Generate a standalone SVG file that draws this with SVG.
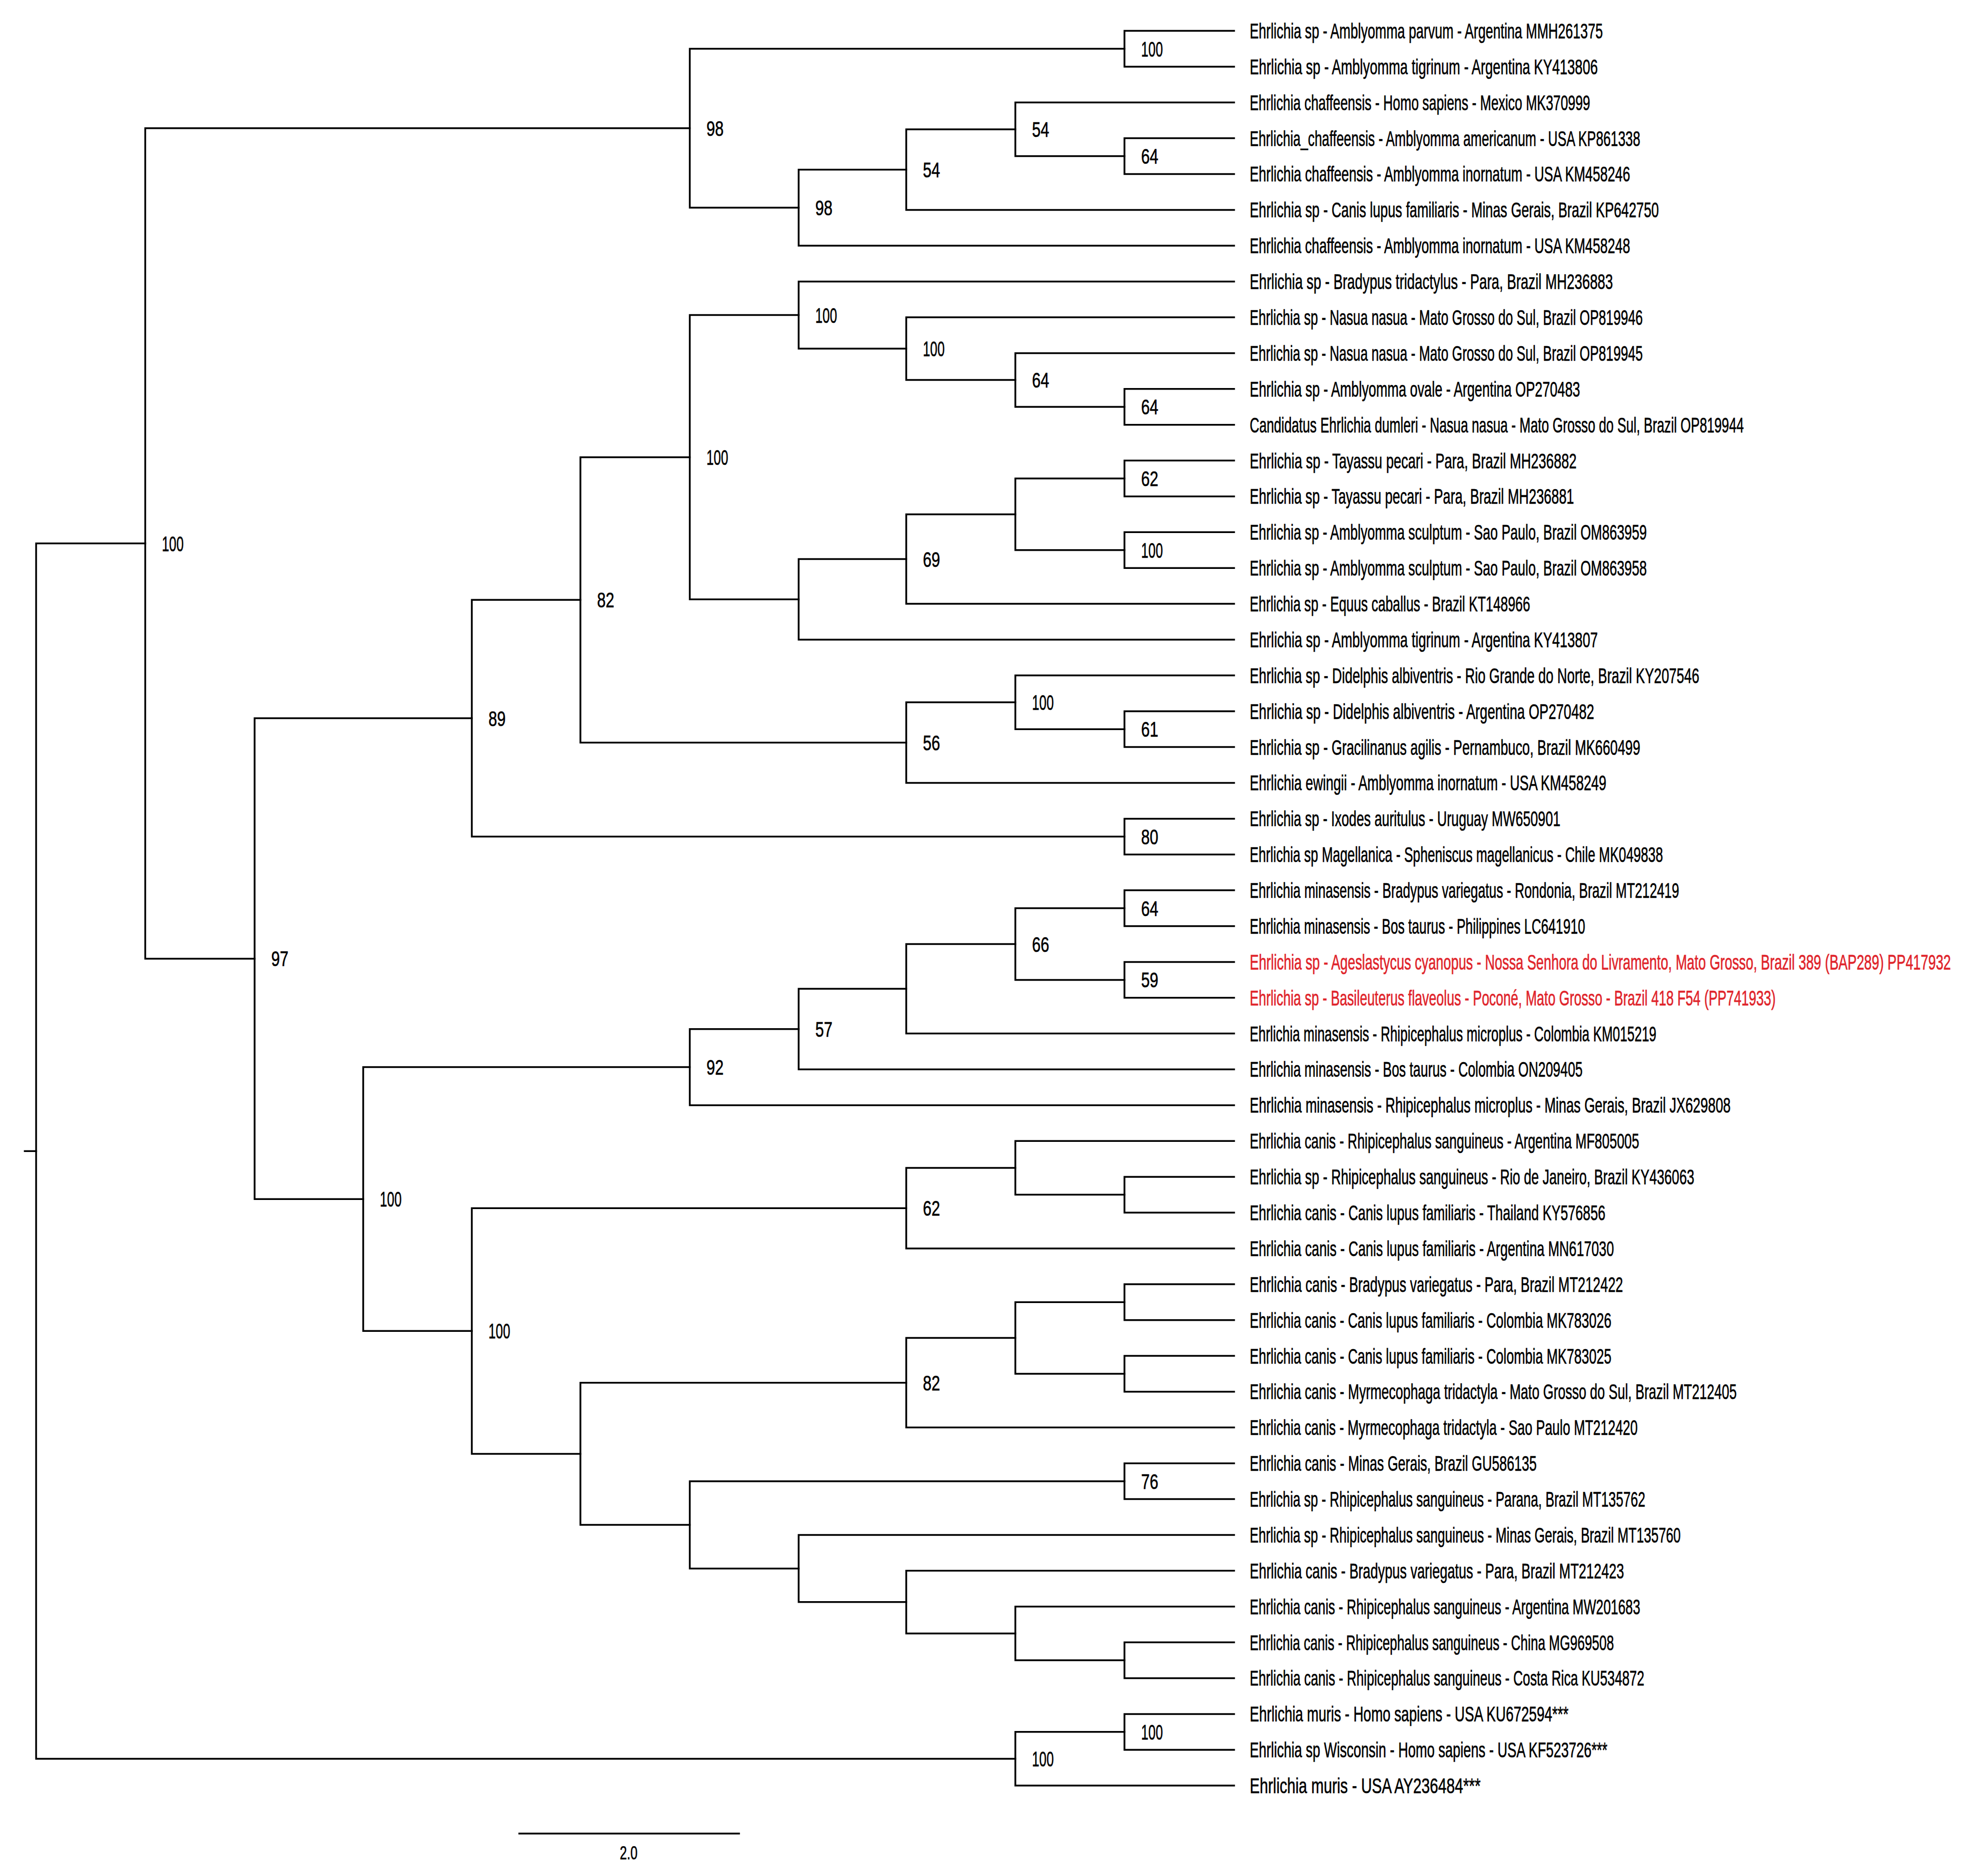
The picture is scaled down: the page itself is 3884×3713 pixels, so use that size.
<svg xmlns="http://www.w3.org/2000/svg" width="3884" height="3713" viewBox="0 0 3884 3713">
<style>
text { font-family: "Liberation Sans", Arial, sans-serif; font-size: 42px; fill: #000; stroke: #000; stroke-width: 0.7; }
.red { fill: #e0242b; stroke: #e0242b; }
.sc { font-size: 36px; }
#connectors path { fill: none; stroke: #000; stroke-width: 3.5; stroke-linejoin: miter; stroke-linecap: square; }
</style>
<rect x="0" y="0" width="3884" height="3713" fill="#fff"/>
<g id="connectors">
<path d="M49 2278.3 H71.5"/>
<path d="M287.5 1075.5 H71.5 V3481 H2010"/>
<path d="M1365.5 253.7 H287.5 V1897.4 H504"/>
<path d="M2226 96.5 H1365.5 V411 H1581"/>
<path d="M2443 61 H2226 V131.9 H2443"/>
<path d="M1794 335.7 H1581 V486.3 H2443"/>
<path d="M2010 255.9 H1794 V415.4 H2443"/>
<path d="M2443 202.8 H2010 V309.1 H2226"/>
<path d="M2443 273.6 H2226 V344.5 H2443"/>
<path d="M934 1421.6 H504 V2373.2 H719"/>
<path d="M1149 1187.3 H934 V1655.8 H2226"/>
<path d="M1365.5 904.9 H1149 V1469.7 H1794"/>
<path d="M1581 623.6 H1365.5 V1186.3 H1581"/>
<path d="M2443 557.2 H1581 V690 H1794"/>
<path d="M2443 628 H1794 V752.1 H2010"/>
<path d="M2443 698.9 H2010 V805.3 H2226"/>
<path d="M2443 769.8 H2226 V840.7 H2443"/>
<path d="M1794 1106.5 H1581 V1266 H2443"/>
<path d="M2010 1017.9 H1794 V1195.1 H2443"/>
<path d="M2226 947 H2010 V1088.8 H2226"/>
<path d="M2443 911.6 H2226 V982.4 H2443"/>
<path d="M2443 1053.3 H2226 V1124.2 H2443"/>
<path d="M2010 1390 H1794 V1549.5 H2443"/>
<path d="M2443 1336.8 H2010 V1443.2 H2226"/>
<path d="M2443 1407.7 H2226 V1478.6 H2443"/>
<path d="M2443 1620.4 H2226 V1691.2 H2443"/>
<path d="M1365.5 2112.1 H719 V2634.3 H934"/>
<path d="M1581 2036.8 H1365.5 V2187.4 H2443"/>
<path d="M1794 1957 H1581 V2116.5 H2443"/>
<path d="M2010 1868.5 H1794 V2045.6 H2443"/>
<path d="M2226 1797.6 H2010 V1939.4 H2226"/>
<path d="M2443 1762.1 H2226 V1833 H2443"/>
<path d="M2443 1903.9 H2226 V1974.8 H2443"/>
<path d="M1794 2391.2 H934 V2877.4 H1149"/>
<path d="M2010 2311.5 H1794 V2470.9 H2443"/>
<path d="M2443 2258.3 H2010 V2364.6 H2226"/>
<path d="M2443 2329.2 H2226 V2400 H2443"/>
<path d="M1794 2736.7 H1149 V3018 H1365.5"/>
<path d="M2226 2577.3 H2010 V2719 H2226"/>
<path d="M2010 2648.1 H1794 V2825.3 H2443"/>
<path d="M2443 2541.8 H2226 V2612.7 H2443"/>
<path d="M2443 2683.6 H2226 V2754.4 H2443"/>
<path d="M2226 2931.7 H1365.5 V3104.4 H1581"/>
<path d="M2443 2896.2 H2226 V2967.1 H2443"/>
<path d="M2443 3038 H1581 V3170.8 H1794"/>
<path d="M2443 3108.8 H1794 V3232.9 H2010"/>
<path d="M2443 3179.7 H2010 V3286.1 H2226"/>
<path d="M2443 3250.6 H2226 V3321.5 H2443"/>
<path d="M2226 3427.8 H2010 V3534.1 H2443"/>
<path d="M2443 3392.4 H2226 V3463.2 H2443"/>
<path d="M1028 3629 H1463"/>
</g>
<g id="support-labels">
<g id="node-n12"><text x="2259" y="111.5" textLength="43" lengthAdjust="spacingAndGlyphs">100</text></g>
<g id="node-G"><text x="2259" y="324" textLength="34" lengthAdjust="spacingAndGlyphs">64</text></g>
<g id="node-F"><text x="2043" y="271" textLength="34" lengthAdjust="spacingAndGlyphs">54</text></g>
<g id="node-E"><text x="1827" y="350.7" textLength="34" lengthAdjust="spacingAndGlyphs">54</text></g>
<g id="node-D"><text x="1614" y="426" textLength="34" lengthAdjust="spacingAndGlyphs">98</text></g>
<g id="node-B"><text x="1398.5" y="268.7" textLength="34" lengthAdjust="spacingAndGlyphs">98</text></g>
<g id="node-A"><text x="320.5" y="1090.5" textLength="43" lengthAdjust="spacingAndGlyphs">100</text></g>
<g id="node-T"><text x="2259" y="820.3" textLength="34" lengthAdjust="spacingAndGlyphs">64</text></g>
<g id="node-S"><text x="2043" y="767.1" textLength="34" lengthAdjust="spacingAndGlyphs">64</text></g>
<g id="node-R"><text x="1827" y="705" textLength="43" lengthAdjust="spacingAndGlyphs">100</text></g>
<g id="node-P"><text x="1614" y="638.6" textLength="43" lengthAdjust="spacingAndGlyphs">100</text></g>
<g id="node-W"><text x="2259" y="962" textLength="34" lengthAdjust="spacingAndGlyphs">62</text></g>
<g id="node-X"><text x="2259" y="1103.8" textLength="43" lengthAdjust="spacingAndGlyphs">100</text></g>
<g id="node-U"><text x="1827" y="1121.5" textLength="34" lengthAdjust="spacingAndGlyphs">69</text></g>
<g id="node-N"><text x="1398.5" y="919.9" textLength="43" lengthAdjust="spacingAndGlyphs">100</text></g>
<g id="node-Z"><text x="2259" y="1458.2" textLength="34" lengthAdjust="spacingAndGlyphs">61</text></g>
<g id="node-Y"><text x="2043" y="1405" textLength="43" lengthAdjust="spacingAndGlyphs">100</text></g>
<g id="node-O"><text x="1827" y="1484.7" textLength="34" lengthAdjust="spacingAndGlyphs">56</text></g>
<g id="node-J"><text x="1182" y="1202.3" textLength="34" lengthAdjust="spacingAndGlyphs">82</text></g>
<g id="node-K"><text x="2259" y="1670.8" textLength="34" lengthAdjust="spacingAndGlyphs">80</text></g>
<g id="node-H"><text x="967" y="1436.6" textLength="34" lengthAdjust="spacingAndGlyphs">89</text></g>
<g id="node-C"><text x="537" y="1912.4" textLength="34" lengthAdjust="spacingAndGlyphs">97</text></g>
<g id="node-AF"><text x="2259" y="1812.6" textLength="34" lengthAdjust="spacingAndGlyphs">64</text></g>
<g id="node-AG"><text x="2259" y="1954.4" textLength="34" lengthAdjust="spacingAndGlyphs">59</text></g>
<g id="node-AE"><text x="2043" y="1883.5" textLength="34" lengthAdjust="spacingAndGlyphs">66</text></g>
<g id="node-AC"><text x="1614" y="2051.8" textLength="34" lengthAdjust="spacingAndGlyphs">57</text></g>
<g id="node-AA"><text x="1398.5" y="2127.1" textLength="34" lengthAdjust="spacingAndGlyphs">92</text></g>
<g id="node-AH"><text x="1827" y="2406.2" textLength="34" lengthAdjust="spacingAndGlyphs">62</text></g>
<g id="node-AL"><text x="1827" y="2751.7" textLength="34" lengthAdjust="spacingAndGlyphs">82</text></g>
<g id="node-AQ"><text x="2259" y="2946.7" textLength="34" lengthAdjust="spacingAndGlyphs">76</text></g>
<g id="node-AB"><text x="967" y="2649.3" textLength="43" lengthAdjust="spacingAndGlyphs">100</text></g>
<g id="node-I"><text x="752" y="2388.2" textLength="43" lengthAdjust="spacingAndGlyphs">100</text></g>
<g id="node-n4849"><text x="2259" y="3442.8" textLength="43" lengthAdjust="spacingAndGlyphs">100</text></g>
<g id="node-M"><text x="2043" y="3496" textLength="43" lengthAdjust="spacingAndGlyphs">100</text></g>
</g>
<g id="leaves" transform="translate(2474 0) scale(0.63 1)">
<g id="leaf-1"><text x="0" y="76" textLength="1109.5" lengthAdjust="spacingAndGlyphs">Ehrlichia sp - Amblyomma parvum - Argentina MMH261375</text></g>
<g id="leaf-2"><text x="0" y="146.9" textLength="1093.7" lengthAdjust="spacingAndGlyphs">Ehrlichia sp - Amblyomma tigrinum - Argentina KY413806</text></g>
<g id="leaf-3"><text x="0" y="217.8" textLength="1069.8" lengthAdjust="spacingAndGlyphs">Ehrlichia chaffeensis - Homo sapiens - Mexico MK370999</text></g>
<g id="leaf-4"><text x="0" y="288.6" textLength="1227" lengthAdjust="spacingAndGlyphs">Ehrlichia_chaffeensis - Amblyomma americanum - USA KP861338</text></g>
<g id="leaf-5"><text x="0" y="359.5" textLength="1195.2" lengthAdjust="spacingAndGlyphs">Ehrlichia chaffeensis - Amblyomma inornatum - USA KM458246</text></g>
<g id="leaf-6"><text x="0" y="430.4" textLength="1285.7" lengthAdjust="spacingAndGlyphs">Ehrlichia sp - Canis lupus familiaris - Minas Gerais, Brazil KP642750</text></g>
<g id="leaf-7"><text x="0" y="501.3" textLength="1195.2" lengthAdjust="spacingAndGlyphs">Ehrlichia chaffeensis - Amblyomma inornatum - USA KM458248</text></g>
<g id="leaf-8"><text x="0" y="572.2" textLength="1141.3" lengthAdjust="spacingAndGlyphs">Ehrlichia sp - Bradypus tridactylus - Para, Brazil MH236883</text></g>
<g id="leaf-9"><text x="0" y="643" textLength="1234.9" lengthAdjust="spacingAndGlyphs">Ehrlichia sp - Nasua nasua - Mato Grosso do Sul, Brazil OP819946</text></g>
<g id="leaf-10"><text x="0" y="713.9" textLength="1234.9" lengthAdjust="spacingAndGlyphs">Ehrlichia sp - Nasua nasua - Mato Grosso do Sul, Brazil OP819945</text></g>
<g id="leaf-11"><text x="0" y="784.8" textLength="1038.1" lengthAdjust="spacingAndGlyphs">Ehrlichia sp - Amblyomma ovale - Argentina OP270483</text></g>
<g id="leaf-12"><text x="0" y="855.7" textLength="1552.4" lengthAdjust="spacingAndGlyphs">Candidatus Ehrlichia dumleri - Nasua nasua - Mato Grosso do Sul, Brazil OP819944</text></g>
<g id="leaf-13"><text x="0" y="926.6" textLength="1027" lengthAdjust="spacingAndGlyphs">Ehrlichia sp - Tayassu pecari - Para, Brazil MH236882</text></g>
<g id="leaf-14"><text x="0" y="997.4" textLength="1019" lengthAdjust="spacingAndGlyphs">Ehrlichia sp - Tayassu pecari - Para, Brazil MH236881</text></g>
<g id="leaf-15"><text x="0" y="1068.3" textLength="1247.6" lengthAdjust="spacingAndGlyphs">Ehrlichia sp - Amblyomma sculptum - Sao Paulo, Brazil OM863959</text></g>
<g id="leaf-16"><text x="0" y="1139.2" textLength="1247.6" lengthAdjust="spacingAndGlyphs">Ehrlichia sp - Amblyomma sculptum - Sao Paulo, Brazil OM863958</text></g>
<g id="leaf-17"><text x="0" y="1210.1" textLength="881" lengthAdjust="spacingAndGlyphs">Ehrlichia sp - Equus caballus - Brazil KT148966</text></g>
<g id="leaf-18"><text x="0" y="1281" textLength="1093.7" lengthAdjust="spacingAndGlyphs">Ehrlichia sp - Amblyomma tigrinum - Argentina KY413807</text></g>
<g id="leaf-19"><text x="0" y="1351.8" textLength="1412.7" lengthAdjust="spacingAndGlyphs">Ehrlichia sp - Didelphis albiventris - Rio Grande do Norte, Brazil KY207546</text></g>
<g id="leaf-20"><text x="0" y="1422.7" textLength="1082.5" lengthAdjust="spacingAndGlyphs">Ehrlichia sp - Didelphis albiventris - Argentina OP270482</text></g>
<g id="leaf-21"><text x="0" y="1493.6" textLength="1227" lengthAdjust="spacingAndGlyphs">Ehrlichia sp - Gracilinanus agilis - Pernambuco, Brazil MK660499</text></g>
<g id="leaf-22"><text x="0" y="1564.5" textLength="1120.6" lengthAdjust="spacingAndGlyphs">Ehrlichia ewingii - Amblyomma inornatum - USA KM458249</text></g>
<g id="leaf-23"><text x="0" y="1635.4" textLength="976.2" lengthAdjust="spacingAndGlyphs">Ehrlichia sp - Ixodes auritulus - Uruguay MW650901</text></g>
<g id="leaf-24"><text x="0" y="1706.2" textLength="1298.4" lengthAdjust="spacingAndGlyphs">Ehrlichia sp Magellanica - Spheniscus magellanicus - Chile MK049838</text></g>
<g id="leaf-25"><text x="0" y="1777.1" textLength="1349.2" lengthAdjust="spacingAndGlyphs">Ehrlichia minasensis - Bradypus variegatus - Rondonia, Brazil MT212419</text></g>
<g id="leaf-26"><text x="0" y="1848" textLength="1054" lengthAdjust="spacingAndGlyphs">Ehrlichia minasensis - Bos taurus - Philippines LC641910</text></g>
<g id="leaf-27"><text class="red" x="0" y="1918.9" textLength="2203.2" lengthAdjust="spacingAndGlyphs">Ehrlichia sp - Ageslastycus cyanopus - Nossa Senhora do Livramento, Mato Grosso, Brazil 389 (BAP289) PP417932</text></g>
<g id="leaf-28"><text class="red" x="0" y="1989.8" textLength="1652.4" lengthAdjust="spacingAndGlyphs">Ehrlichia sp - Basileuterus flaveolus - Poconé, Mato Grosso - Brazil 418 F54 (PP741933)</text></g>
<g id="leaf-29"><text x="0" y="2060.6" textLength="1277.8" lengthAdjust="spacingAndGlyphs">Ehrlichia minasensis - Rhipicephalus microplus - Colombia KM015219</text></g>
<g id="leaf-30"><text x="0" y="2131.5" textLength="1046" lengthAdjust="spacingAndGlyphs">Ehrlichia minasensis - Bos taurus - Colombia ON209405</text></g>
<g id="leaf-31"><text x="0" y="2202.4" textLength="1511.1" lengthAdjust="spacingAndGlyphs">Ehrlichia minasensis - Rhipicephalus microplus - Minas Gerais, Brazil JX629808</text></g>
<g id="leaf-32"><text x="0" y="2273.3" textLength="1223.8" lengthAdjust="spacingAndGlyphs">Ehrlichia canis - Rhipicephalus sanguineus - Argentina MF805005</text></g>
<g id="leaf-33"><text x="0" y="2344.2" textLength="1396.8" lengthAdjust="spacingAndGlyphs">Ehrlichia sp - Rhipicephalus sanguineus - Rio de Janeiro, Brazil KY436063</text></g>
<g id="leaf-34"><text x="0" y="2415" textLength="1117.5" lengthAdjust="spacingAndGlyphs">Ehrlichia canis - Canis lupus familiaris - Thailand KY576856</text></g>
<g id="leaf-35"><text x="0" y="2485.9" textLength="1144.4" lengthAdjust="spacingAndGlyphs">Ehrlichia canis - Canis lupus familiaris - Argentina MN617030</text></g>
<g id="leaf-36"><text x="0" y="2556.8" textLength="1173" lengthAdjust="spacingAndGlyphs">Ehrlichia canis - Bradypus variegatus - Para, Brazil MT212422</text></g>
<g id="leaf-37"><text x="0" y="2627.7" textLength="1136.5" lengthAdjust="spacingAndGlyphs">Ehrlichia canis - Canis lupus familiaris - Colombia MK783026</text></g>
<g id="leaf-38"><text x="0" y="2698.6" textLength="1136.5" lengthAdjust="spacingAndGlyphs">Ehrlichia canis - Canis lupus familiaris - Colombia MK783025</text></g>
<g id="leaf-39"><text x="0" y="2769.4" textLength="1530.2" lengthAdjust="spacingAndGlyphs">Ehrlichia canis - Myrmecophaga tridactyla - Mato Grosso do Sul, Brazil MT212405</text></g>
<g id="leaf-40"><text x="0" y="2840.3" textLength="1219" lengthAdjust="spacingAndGlyphs">Ehrlichia canis - Myrmecophaga tridactyla - Sao Paulo MT212420</text></g>
<g id="leaf-41"><text x="0" y="2911.2" textLength="901.6" lengthAdjust="spacingAndGlyphs">Ehrlichia canis - Minas Gerais, Brazil GU586135</text></g>
<g id="leaf-42"><text x="0" y="2982.1" textLength="1242.9" lengthAdjust="spacingAndGlyphs">Ehrlichia sp - Rhipicephalus sanguineus - Parana, Brazil MT135762</text></g>
<g id="leaf-43"><text x="0" y="3053" textLength="1354" lengthAdjust="spacingAndGlyphs">Ehrlichia sp - Rhipicephalus sanguineus - Minas Gerais, Brazil MT135760</text></g>
<g id="leaf-44"><text x="0" y="3123.8" textLength="1176.2" lengthAdjust="spacingAndGlyphs">Ehrlichia canis - Bradypus variegatus - Para, Brazil MT212423</text></g>
<g id="leaf-45"><text x="0" y="3194.7" textLength="1227" lengthAdjust="spacingAndGlyphs">Ehrlichia canis - Rhipicephalus sanguineus - Argentina MW201683</text></g>
<g id="leaf-46"><text x="0" y="3265.6" textLength="1144.4" lengthAdjust="spacingAndGlyphs">Ehrlichia canis - Rhipicephalus sanguineus - China MG969508</text></g>
<g id="leaf-47"><text x="0" y="3336.5" textLength="1239.7" lengthAdjust="spacingAndGlyphs">Ehrlichia canis - Rhipicephalus sanguineus - Costa Rica KU534872</text></g>
<g id="leaf-48"><text x="0" y="3407.4" textLength="1001.6" lengthAdjust="spacingAndGlyphs">Ehrlichia muris - Homo sapiens - USA KU672594***</text></g>
<g id="leaf-49"><text x="0" y="3478.2" textLength="1123.8" lengthAdjust="spacingAndGlyphs">Ehrlichia sp Wisconsin - Homo sapiens - USA KF523726***</text></g>
<g id="leaf-50"><text x="0" y="3549.1" textLength="725.4" lengthAdjust="spacingAndGlyphs">Ehrlichia muris - USA AY236484***</text></g>
</g>
<g id="scale-bar">
<text class="sc" x="1227" y="3680" textLength="35" lengthAdjust="spacingAndGlyphs">2.0</text>
</g>
</svg>
